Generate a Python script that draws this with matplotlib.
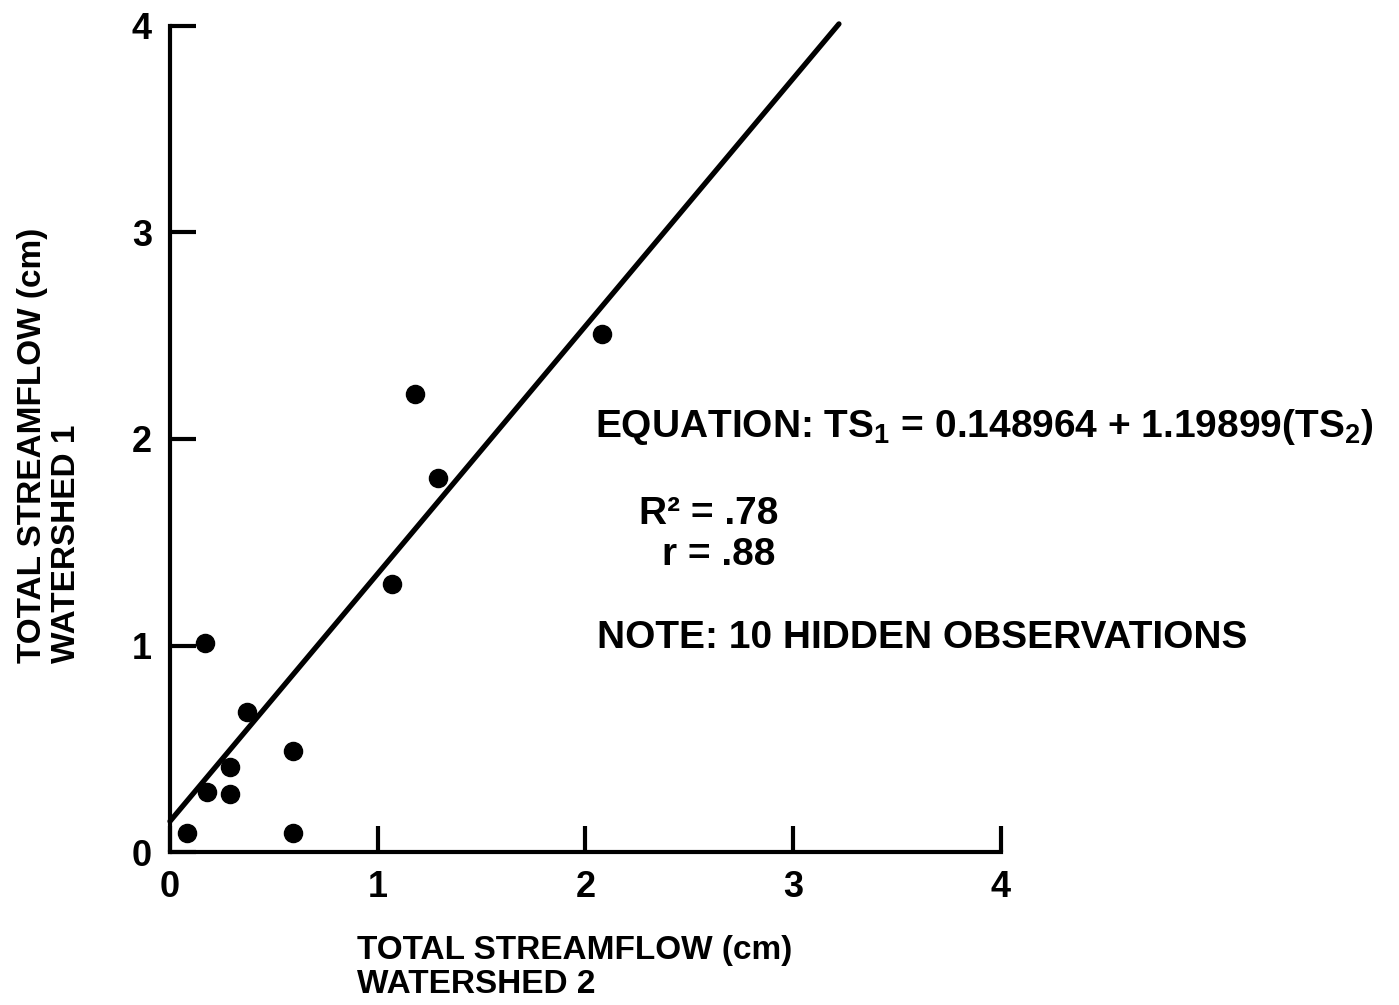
import matplotlib
matplotlib.use('Agg')
import matplotlib.pyplot as plt
import numpy as np

plt.rcParams['font.family'] = ['Liberation Sans', 'DejaVu Sans']
plt.rcParams['font.weight'] = 'bold'
plt.rcParams['mathtext.fontset'] = 'custom'
plt.rcParams['mathtext.rm'] = 'Liberation Sans:bold'

# observed streamflow pairs (cm)
ts2 = [0.08, 0.17, 0.18, 0.29, 0.29, 0.37, 0.59, 0.59, 1.07, 1.18, 1.29, 2.08]
ts1 = [0.09, 1.01, 0.29, 0.28, 0.41, 0.68, 0.49, 0.09, 1.30, 2.22, 1.81, 2.51]

intercept = 0.148964
slope = 1.19899
r_squared = '.78'
r_value = '.88'
hidden = 10

ticks = [0, 1, 2, 3, 4]

fig = plt.figure(figsize=(13.99, 10.05), dpi=100)
ax = fig.add_axes([0.1215, 0.1522, 0.594, 0.822])

# regression line
xl = np.array([0.0, 3.22])
ax.plot(xl, intercept + slope * xl, color='black', lw=3.8,
        solid_capstyle='round', clip_on=False, zorder=3)

ax.scatter(ts2, ts1, s=170, color='black', zorder=4, clip_on=False)

ax.set_xlim(0, 4)
ax.set_ylim(0, 4)
ax.set_xticks(ticks)
ax.set_yticks(ticks)
ax.set_xticklabels([str(t) for t in ticks], fontsize=26, fontweight='bold')
ax.set_yticklabels([str(t) for t in ticks], fontsize=26, fontweight='bold')
ax.tick_params(direction='in', length=19, width=3)
ax.tick_params(axis='x', pad=13)
ax.tick_params(axis='y', pad=13)

for side in ['top', 'right']:
    ax.spines[side].set_visible(False)
for side in ['left', 'bottom']:
    ax.spines[side].set_linewidth(3)
    ax.spines[side].set_capstyle('projecting')

fs = 28
ax.text(2.046, 2.01,
        r'EQUATION: TS$\mathregular{_1}$ = 0.148964 + 1.19899(TS$\mathregular{_2}$)',
        fontsize=fs, va='baseline', ha='left', clip_on=False)
ax.text(2.26, 1.59, 'R\u00b2 = ' + r_squared, fontsize=fs, va='baseline')
ax.text(2.37, 1.39, 'r = ' + r_value, fontsize=fs, va='baseline')
ax.text(2.055, 0.99, 'NOTE: %d HIDDEN OBSERVATIONS' % hidden,
        fontsize=fs, va='baseline')

fig.text(0.012, 0.34, 'TOTAL STREAMFLOW (cm)\nWATERSHED 1', rotation=90,
         ha='left', va='bottom', multialignment='left', fontsize=24,
         linespacing=1.15)
fig.text(0.255, 0.070, 'TOTAL STREAMFLOW (cm)\nWATERSHED 2',
         ha='left', va='top', multialignment='left', fontsize=24,
         linespacing=1.15)

fig.savefig('out.png', dpi=100)
